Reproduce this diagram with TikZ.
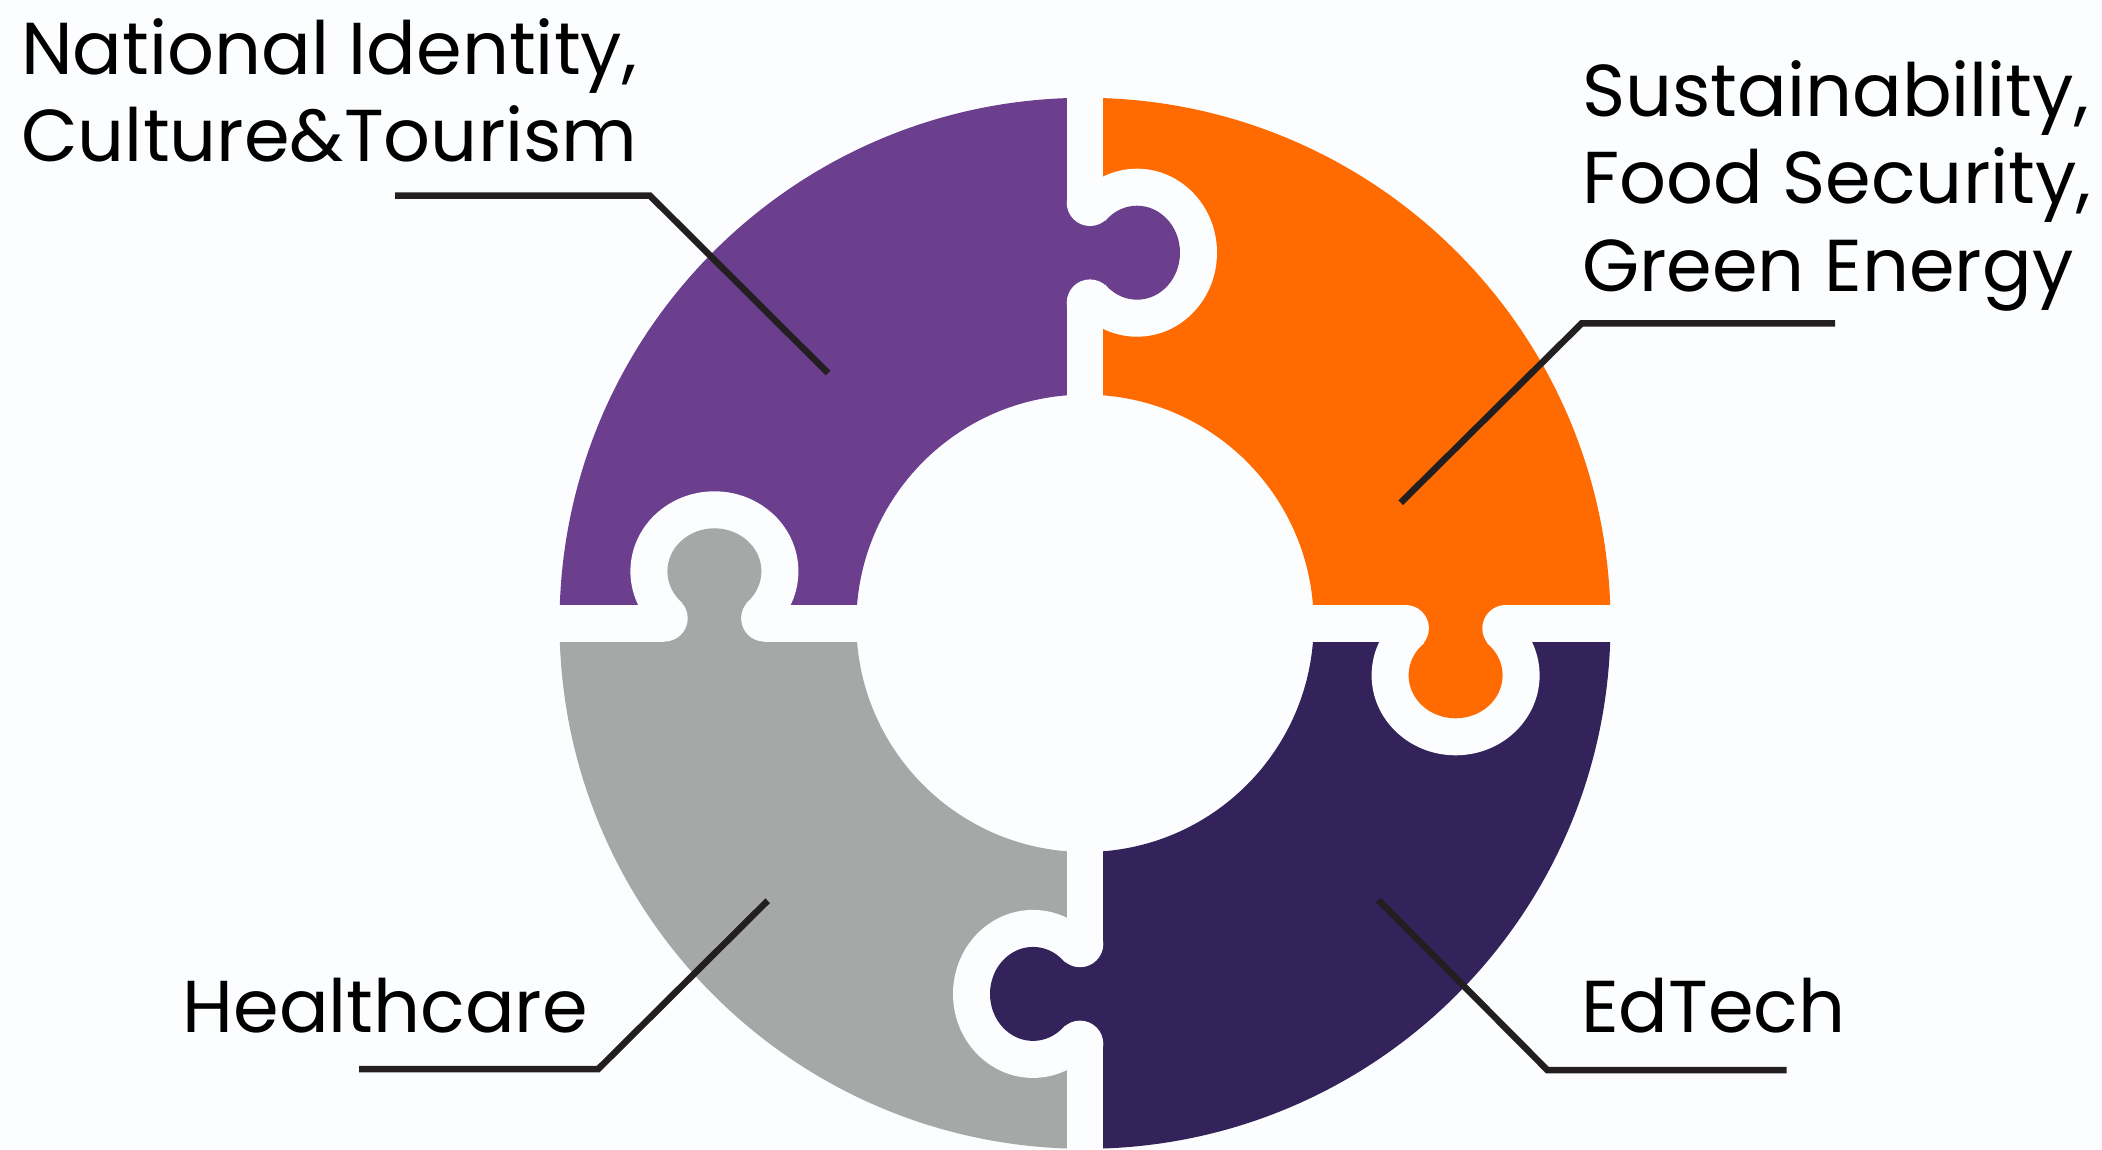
\documentclass[tikz,border=0pt]{standalone}
\usepackage{fontspec}
\setmainfont{Poppins}
\definecolor{bgc}{HTML}{FBFDFE}
\definecolor{purp}{HTML}{6B3F8D}
\definecolor{orng}{HTML}{FF6B00}
\definecolor{gry}{HTML}{A5A8A7}
\definecolor{navy}{HTML}{33235A}
\definecolor{ink}{HTML}{231F20}
\begin{document}
\begin{tikzpicture}[x=1pt,y=-1pt,
  leader/.style={draw=ink, line width=6.5pt, line cap=butt, line join=miter},
  txt/.style={font=\fontsize{73.5}{87.5}\selectfont, text=black, inner sep=0pt, anchor=base west, align=left},
  gapfill/.style={fill=bgc}]
\useasboundingbox (0,0) rectangle (2102,1149);
\fill[bgc] (0,0) rectangle (2102,1149);
\coordinate (C) at (1085,623.3);
% quadrants of the ring
\begin{scope}\clip (0,0) rectangle (1085,623.3);
\fill[purp,even odd rule] (C) circle[radius=525.5] (C) circle[radius=228.7];\end{scope}
\begin{scope}\clip (1085,0) rectangle (2102,623.3);
\fill[orng,even odd rule] (C) circle[radius=525.5] (C) circle[radius=228.7];\end{scope}
\begin{scope}\clip (0,623.3) rectangle (1085,1149);
\fill[gry,even odd rule] (C) circle[radius=525.5] (C) circle[radius=228.7];\end{scope}
\begin{scope}\clip (1085,623.3) rectangle (2102,1149);
\fill[navy,even odd rule] (C) circle[radius=525.5] (C) circle[radius=228.7];\end{scope}
% gaps
\fill[gapfill] (1066.7,0) rectangle (1103.3,1149);
\fill[gapfill] (0,605) rectangle (2102,641.6);
% cut-outs
\fill[gapfill] (1137,252.7) ellipse[x radius=80,y radius=84];
\fill[gapfill] (714.4,571.3) ellipse[x radius=84,y radius=80];
\fill[gapfill] (1455.6,675.3) ellipse[x radius=84,y radius=80];
\fill[gapfill] (1033,993.9) ellipse[x radius=80,y radius=84];
% necks
\fill[purp] (1055,202.7) rectangle (1105,302.7);
\fill[gry] (664.4,603.3) rectangle (764.4,653.3);
\fill[orng] (1405.6,593.3) rectangle (1505.6,643.3);
\fill[navy] (1065,943.9) rectangle (1115,1043.9);
% fillets
\fill[gapfill] (1090,202.7) circle[radius=23.3] (1090,302.7) circle[radius=23.3];
\fill[gapfill] (664.4,618.3) circle[radius=23.3] (764.4,618.3) circle[radius=23.3];
\fill[gapfill] (1405.6,628.3) circle[radius=23.3] (1505.6,628.3) circle[radius=23.3];
\fill[gapfill] (1080,943.9) circle[radius=23.3] (1080,1043.9) circle[radius=23.3];
% knobs
\fill[purp] (1137,252.7) ellipse[x radius=43,y radius=47];
\fill[gry] (714.4,571.3) ellipse[x radius=47,y radius=43];
\fill[orng] (1455.6,675.3) ellipse[x radius=47,y radius=43];
\fill[navy] (1033,993.9) ellipse[x radius=43,y radius=47];
% labels (base anchor = baseline of the last line)
\node[txt] (nat) at (21,161.5) {National Identity,\\Culture\&Tourism};
\node[txt] (sus) at (1582,291) {Sustainability,\\Food Security,\\Green Energy};
\node[txt] (hc) at (182.5,1032) {Healthcare};
\node[txt] (ed) at (1581,1032) {EdTech};
% leaders
\coordinate (n1) at (395,195.7); \coordinate (n2) at (650,195.7); \coordinate (n3) at (828,373);
\coordinate (s1) at (1835,323.3); \coordinate (s2) at (1581.7,323.3); \coordinate (s3) at (1400.7,502.7);
\coordinate (h1) at (359,1069); \coordinate (h2) at (598.3,1069); \coordinate (h3) at (767.7,900.7);
\coordinate (e1) at (1786.7,1070); \coordinate (e2) at (1547.3,1070); \coordinate (e3) at (1378.3,900);
\draw[leader] (n1) -- (n2) -- (n3);
\draw[leader] (s1) -- (s2) -- (s3);
\draw[leader] (h1) -- (h2) -- (h3);
\draw[leader] (e1) -- (e2) -- (e3);
\end{tikzpicture}
\end{document}
